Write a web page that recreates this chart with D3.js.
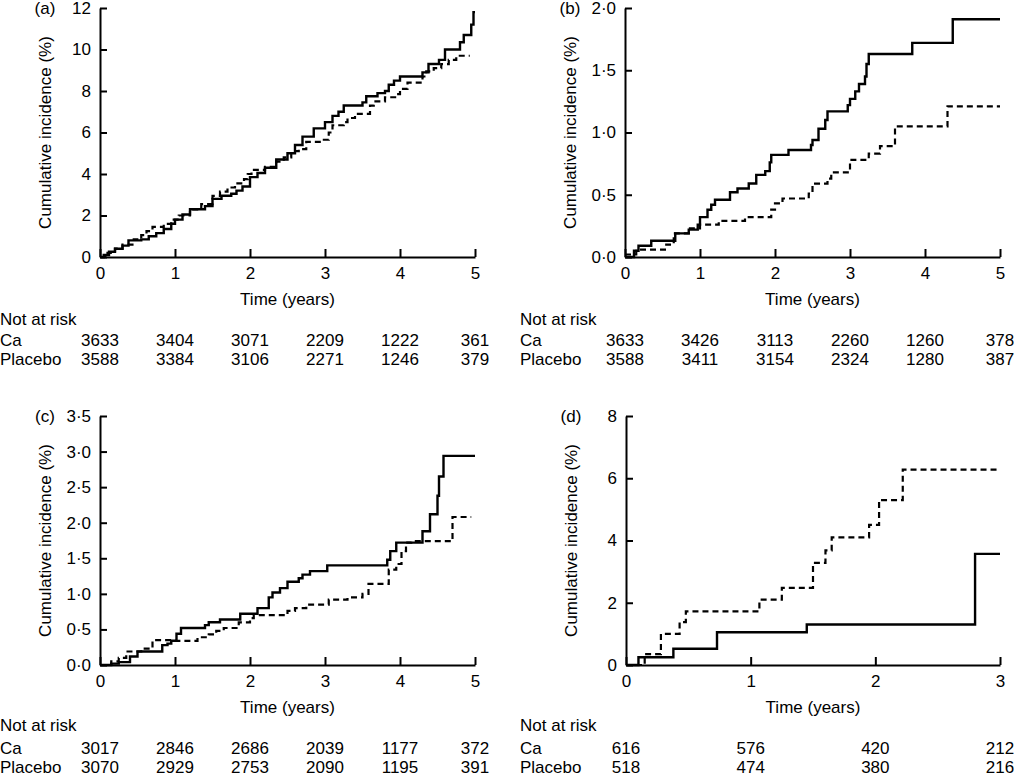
<!DOCTYPE html>
<html>
<head>
<meta charset="utf-8">
<script src="https://cdn.jsdelivr.net/npm/d3@7/dist/d3.min.js"></script>
<style>
  html, body { margin: 0; padding: 0; background: #fff; }
  svg { display: block; }
  text { font-family: "Liberation Sans", Arial, Helvetica, sans-serif; fill: #000; }
</style>
</head>
<body>
<svg id="chart" width="1014" height="778"></svg>
<script>
// ---------- data (time in years, cumulative incidence in %) ----------
const panelLabels = ["(a)", "(b)", "(c)", "(d)"];
const xTicksA = [0, 1, 2, 3, 4, 5];
const xTicksD = [0, 1, 2, 3];
const yTicksA = [0, 2, 4, 6, 8, 10, 12];
const yTicksB = [0, 0.5, 1, 1.5, 2];
const yTicksC = [0, 0.5, 1, 1.5, 2, 2.5, 3, 3.5];
const yTicksD = [0, 2, 4, 6, 8];
const yTickLabelsA = ["0", "2", "4", "6", "8", "10", "12"];
const yTickLabelsB = ["0·0", "0·5", "1·0", "1·5", "2·0"];
const yTickLabelsC = ["0·0", "0·5", "1·0", "1·5", "2·0", "2·5", "3·0", "3·5"];
const yTickLabelsD = ["0", "2", "4", "6", "8"];
const groups = ["Ca", "Placebo"];

const caA = [[0,0],[0.05,0.1],[0.12,0.25],[0.2,0.4],[0.3,0.55],[0.38,0.8],[0.55,0.85],[0.65,1.0],[0.75,1.15],[0.85,1.35],[0.95,1.6],[1.0,1.8],[1.1,2.05],[1.2,2.3],[1.4,2.45],[1.5,2.8],[1.62,2.95],[1.75,3.05],[1.82,3.2],[1.9,3.4],[2.0,3.85],[2.1,4.05],[2.2,4.3],[2.35,4.7],[2.5,5.0],[2.6,5.4],[2.7,5.8],[2.85,6.2],[3.0,6.5],[3.1,6.8],[3.18,7.0],[3.25,7.3],[3.5,7.45],[3.55,7.75],[3.7,7.9],[3.8,8.0],[3.85,8.3],[3.92,8.5],[4.0,8.7],[4.3,8.9],[4.38,9.3],[4.52,9.5],[4.6,10.0],[4.8,10.35],[4.85,10.7],[4.95,11.2],[4.98,11.8],[5.0,11.8]];
const plA = [[0,0],[0.1,0.2],[0.2,0.4],[0.3,0.6],[0.45,0.85],[0.55,1.05],[0.62,1.25],[0.7,1.45],[0.85,1.6],[0.95,1.8],[1.05,2.0],[1.2,2.3],[1.35,2.55],[1.5,2.95],[1.6,3.15],[1.7,3.35],[1.8,3.55],[1.92,3.75],[1.97,4.0],[2.02,4.2],[2.2,4.35],[2.35,4.6],[2.45,4.8],[2.55,5.1],[2.65,5.2],[2.75,5.55],[2.95,5.65],[3.05,6.0],[3.1,6.35],[3.25,6.5],[3.3,6.7],[3.4,6.9],[3.6,7.3],[3.65,7.5],[3.8,7.7],[3.95,7.85],[4.0,8.1],[4.1,8.4],[4.3,8.7],[4.35,8.95],[4.45,9.1],[4.55,9.3],[4.65,9.5],[4.75,9.7],[4.93,9.7]];

const caB = [[0,0],[0.12,0.05],[0.18,0.09],[0.35,0.13],[0.67,0.19],[0.85,0.22],[0.97,0.26],[1.0,0.32],[1.1,0.38],[1.15,0.42],[1.2,0.46],[1.4,0.52],[1.5,0.55],[1.65,0.59],[1.75,0.66],[1.87,0.69],[1.93,0.76],[1.95,0.82],[2.18,0.86],[2.48,0.9],[2.5,0.94],[2.58,1.03],[2.67,1.1],[2.7,1.17],[2.97,1.22],[3.0,1.27],[3.07,1.33],[3.12,1.39],[3.2,1.45],[3.22,1.55],[3.25,1.63],[3.83,1.72],[4.37,1.91],[5.0,1.91]];
const plB = [[0,0.02],[0.15,0.06],[0.55,0.1],[0.65,0.19],[0.85,0.23],[1.0,0.26],[1.25,0.29],[1.6,0.32],[1.95,0.38],[2.0,0.43],[2.1,0.47],[2.45,0.51],[2.5,0.59],[2.7,0.63],[2.75,0.68],[3.0,0.78],[3.25,0.83],[3.4,0.89],[3.6,1.05],[4.3,1.21],[5.0,1.21]];

const caC = [[0,0],[0.15,0.02],[0.25,0.04],[0.4,0.12],[0.5,0.19],[0.83,0.28],[0.9,0.3],[0.95,0.34],[1.02,0.44],[1.08,0.52],[1.4,0.56],[1.45,0.6],[1.6,0.64],[1.87,0.72],[2.1,0.8],[2.25,0.95],[2.3,1.02],[2.4,1.08],[2.5,1.17],[2.65,1.22],[2.7,1.27],[2.8,1.32],[3.03,1.4],[3.83,1.48],[3.87,1.6],[3.95,1.72],[4.3,1.88],[4.4,2.12],[4.5,2.38],[4.52,2.65],[4.58,2.94],[5.0,2.94]];
const plC = [[0,0],[0.15,0.05],[0.25,0.1],[0.35,0.19],[0.55,0.23],[0.7,0.35],[1.0,0.34],[1.3,0.39],[1.45,0.43],[1.55,0.48],[1.65,0.52],[1.85,0.6],[2.0,0.66],[2.05,0.7],[2.5,0.76],[2.6,0.8],[2.75,0.85],[3.05,0.92],[3.3,0.95],[3.5,1.0],[3.58,1.14],[3.85,1.34],[3.95,1.42],[4.02,1.6],[4.08,1.72],[4.15,1.74],[4.7,2.08],[4.95,2.08]];

const caD = [[0,0],[0.1,0.25],[0.38,0.52],[0.73,1.05],[1.45,1.3],[2.8,3.57],[3.0,3.57]];
const plD = [[0,0],[0.15,0.35],[0.28,1.0],[0.43,1.38],[0.48,1.72],[1.07,2.1],[1.25,2.48],[1.5,3.28],[1.6,3.68],[1.65,4.1],[1.95,4.5],[2.03,5.3],[2.22,6.28],[3.0,6.28]];

const riskCaA = [3633, 3404, 3071, 2209, 1222, 361];
const riskPlA = [3588, 3384, 3106, 2271, 1246, 379];
const riskCaB = [3633, 3426, 3113, 2260, 1260, 378];
const riskPlB = [3588, 3411, 3154, 2324, 1280, 387];
const riskCaC = [3017, 2846, 2686, 2039, 1177, 372];
const riskPlC = [3070, 2929, 2753, 2090, 1195, 391];
const riskCaD = [616, 576, 420, 212];
const riskPlD = [518, 474, 380, 216];

// ---------- layout ----------
const panels = [
  { label: panelLabels[0], left: 100, right: 475, top: 8, bottom: 257, xmax: 5, xt: xTicksA, ymax: 12, yt: yTicksA, yl: yTickLabelsA, ca: caA, pl: plA, rc: riskCaA, rp: riskPlA, tx: 0, rowY: [325, 345.5, 365] },
  { label: panelLabels[1], left: 625, right: 1000, top: 8, bottom: 257, xmax: 5, xt: xTicksA, ymax: 2, yt: yTicksB, yl: yTickLabelsB, ca: caB, pl: plB, rc: riskCaB, rp: riskPlB, tx: 520, rowY: [325, 345.5, 365] },
  { label: panelLabels[2], left: 100, right: 475, top: 416, bottom: 665, xmax: 5, xt: xTicksA, ymax: 3.5, yt: yTicksC, yl: yTickLabelsC, ca: caC, pl: plC, rc: riskCaC, rp: riskPlC, tx: 0, rowY: [731, 754, 773] },
  { label: panelLabels[3], left: 626, right: 1000, top: 416, bottom: 665, xmax: 3, xt: xTicksD, ymax: 8, yt: yTicksD, yl: yTickLabelsD, ca: caD, pl: plD, rc: riskCaD, rp: riskPlD, tx: 520, rowY: [731, 754, 773] }
];

const svg = d3.select("#chart");
const FS = 17;

panels.forEach(p => {
  const x = d3.scaleLinear().domain([0, p.xmax]).range([p.left, p.right]);
  const y = d3.scaleLinear().domain([0, p.ymax]).range([p.bottom, p.top]);
  const g = svg.append("g");

  // y axis
  const yAxis = d3.axisLeft(y).tickValues(p.yt).tickSize(-7).tickSizeOuter(0).tickPadding(9)
    .tickFormat((d, i) => p.yl[i]);
  const ya = g.append("g").attr("transform", `translate(${p.left},0)`).call(yAxis);
  // x axis
  const xAxis = d3.axisBottom(x).tickValues(p.xt).tickSize(-8).tickSizeOuter(0).tickPadding(10)
    .tickFormat(d3.format("d"));
  const xa = g.append("g").attr("transform", `translate(0,${p.bottom})`).call(xAxis);
  [ya, xa].forEach(a => {
    a.selectAll("path.domain").attr("stroke", "#000").attr("stroke-width", 2);
    a.selectAll(".tick line").attr("stroke", "#000").attr("stroke-width", 2);
    a.selectAll("text").attr("font-size", FS).attr("font-family", "Liberation Sans, Arial, sans-serif").attr("fill", "#000");
  });
  xa.selectAll("text").attr("dy", "0.71em");

  // lines
  const line = d3.line().x(d => x(d[0])).y(d => y(d[1])).curve(d3.curveStepAfter);
  g.append("path").datum(p.pl).attr("d", line).attr("fill", "none")
    .attr("stroke", "#000").attr("stroke-width", 2.2).attr("stroke-dasharray", "6,4");
  g.append("path").datum(p.ca).attr("d", line).attr("fill", "none")
    .attr("stroke", "#000").attr("stroke-width", 2.4);

  // titles
  const midY = (p.top + p.bottom) / 2;
  const labX = p.left - 55;
  g.append("text").attr("transform", `translate(${labX},${midY}) rotate(-90)`)
    .attr("text-anchor", "middle").attr("dy", "0.35em").attr("font-size", FS)
    .text("Cumulative incidence (%)");
  g.append("text").attr("x", p.left - 55).attr("y", p.top).attr("dy", "0.35em")
    .attr("text-anchor", "middle").attr("font-size", FS).text(p.label);
  g.append("text").attr("x", (p.left + p.right) / 2).attr("y", p.bottom + 48)
    .attr("text-anchor", "middle").attr("font-size", FS).text("Time (years)");

  // risk table
  g.append("text").attr("x", p.tx).attr("y", p.rowY[0]).attr("font-size", FS).text("Not at risk");
  g.append("text").attr("x", p.tx).attr("y", p.rowY[1]).attr("font-size", FS).text(groups[0]);
  g.append("text").attr("x", p.tx).attr("y", p.rowY[2]).attr("font-size", FS).text(groups[1]);
  g.selectAll("text.rc").data(p.rc).enter().append("text").attr("class", "rc")
    .attr("x", (d, i) => x(p.xt[i])).attr("y", p.rowY[1]).attr("text-anchor", "middle")
    .attr("font-size", FS).text(d => d);
  g.selectAll("text.rp").data(p.rp).enter().append("text").attr("class", "rp")
    .attr("x", (d, i) => x(p.xt[i])).attr("y", p.rowY[2]).attr("text-anchor", "middle")
    .attr("font-size", FS).text(d => d);
});
</script>
</body>
</html>
